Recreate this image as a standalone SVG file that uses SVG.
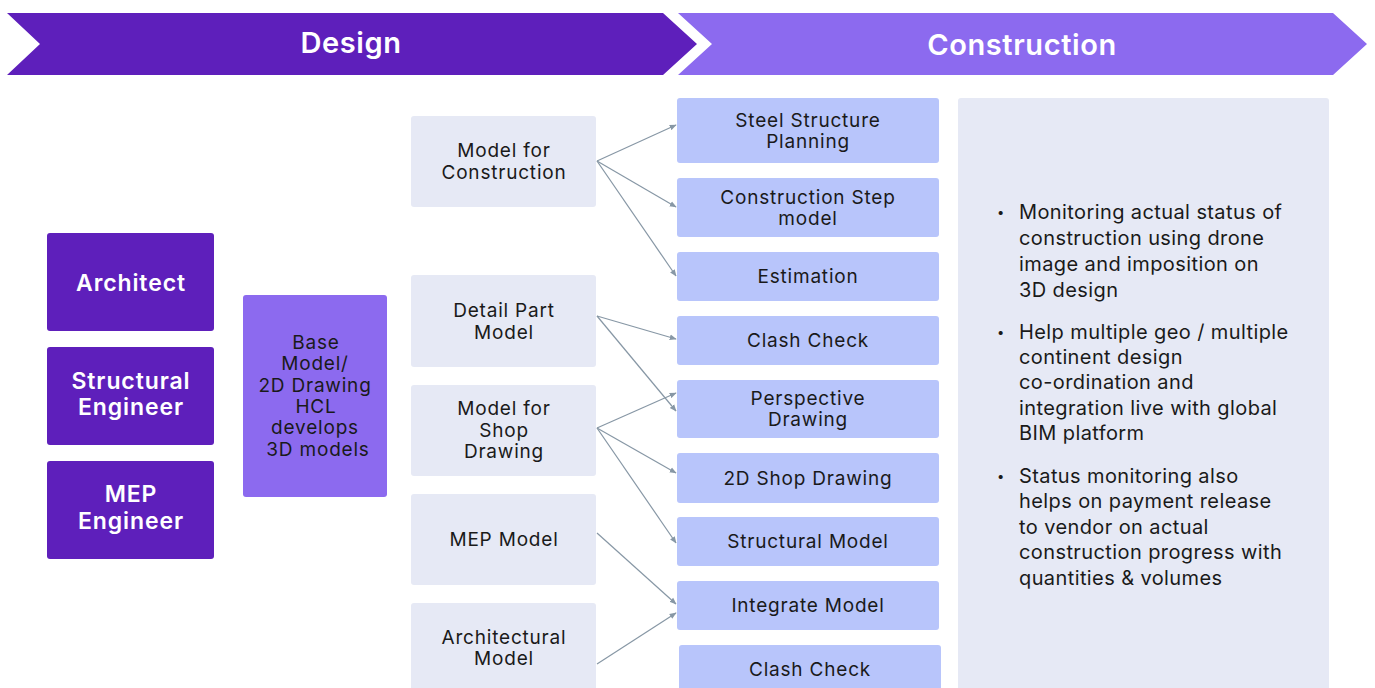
<svg xmlns="http://www.w3.org/2000/svg" width="1375" height="688" viewBox="0 0 1375 688">
  <defs>
    <marker id="arrow" viewBox="0 0 10 10" refX="9" refY="5" markerWidth="7" markerHeight="7" orient="auto" markerUnits="userSpaceOnUse">
      <path d="M0,1 L10,5 L0,9 z" fill="#8797A5"/>
    </marker>
    <style>
      .band-dark { fill: #5E1FBB; }
      .band-light { fill: #8C6AEF; }
      .band-text { font-family: Inter, "Liberation Sans", sans-serif; font-size: 29px; font-weight: 600; letter-spacing: 0.6px; fill: #FFFFFF; text-anchor: middle; }
      .role { fill: #5E1FBB; }
      .role-text { font-family: Inter, "Liberation Sans", sans-serif; font-size: 23px; font-weight: 600; letter-spacing: 0.9px; fill: #FFFFFF; text-anchor: middle; }
      .base { fill: #8C6AEF; }
      .model { fill: #E6E9F5; }
      .output { fill: #B8C5FB; }
      .panel { fill: #E6E9F5; }
      .label { font-family: Inter, "Liberation Sans", sans-serif; font-size: 19px; letter-spacing: 0.8px; fill: #1A1A1A; text-anchor: middle; }
      .bullet { font-family: Inter, "Liberation Sans", sans-serif; font-size: 20px; letter-spacing: 0.4px; fill: #1A1A1A; }
      .dot { font-family: Inter, "Liberation Sans", sans-serif; font-size: 13px; fill: #1A1A1A; }
      .link { stroke: #8797A5; stroke-width: 1.2; fill: none; marker-end: url(#arrow); }
    </style>
  </defs>

  <rect width="1375" height="688" fill="#FFFFFF"/>

  <!-- phase bands -->
  <g id="phase-design">
    <polygon class="band-dark" points="7,13 663,13 697,44 663,75 7,75 40,44"/>
    <text class="band-text" x="351" y="53">Design</text>
  </g>
  <g id="phase-construction">
    <polygon class="band-light" points="678,13 1333,13 1367,44 1333,75 678,75 712,44"/>
    <text class="band-text" x="1022" y="55">Construction</text>
  </g>

  <!-- roles -->
  <g id="architect">
    <rect class="role" x="47" y="233" width="167" height="98" rx="3"/>
    <text class="role-text" x="131" y="291">Architect</text>
  </g>
  <g id="structural-engineer">
    <rect class="role" x="47" y="347" width="167" height="98" rx="3"/>
    <text class="role-text" x="131" y="389">Structural</text>
    <text class="role-text" x="131" y="415">Engineer</text>
  </g>
  <g id="mep-engineer">
    <rect class="role" x="47" y="461" width="167" height="98" rx="3"/>
    <text class="role-text" x="131" y="502">MEP</text>
    <text class="role-text" x="131" y="529">Engineer</text>
  </g>

  <!-- base model -->
  <g id="base-model">
    <rect class="base" x="243" y="295" width="144" height="202" rx="3"/>
    <text class="label" x="316" y="349">Base</text>
    <text class="label" x="315" y="370">Model/</text>
    <text class="label" x="315" y="392">2D Drawing</text>
    <text class="label" x="316" y="413">HCL</text>
    <text class="label" x="315" y="434">develops</text>
    <text class="label" x="318" y="456">3D models</text>
  </g>

  <!-- model types -->
  <g id="model-for-construction">
    <rect class="model" x="411" y="116" width="185" height="91" rx="3"/>
    <text class="label" x="504" y="157">Model for</text>
    <text class="label" x="504" y="179">Construction</text>
  </g>
  <g id="detail-part-model">
    <rect class="model" x="411" y="275" width="185" height="92" rx="3"/>
    <text class="label" x="504" y="317">Detail Part</text>
    <text class="label" x="504" y="339">Model</text>
  </g>
  <g id="model-for-shop-drawing">
    <rect class="model" x="411" y="385" width="185" height="91" rx="3"/>
    <text class="label" x="504" y="415">Model for</text>
    <text class="label" x="504" y="437">Shop</text>
    <text class="label" x="504" y="458">Drawing</text>
  </g>
  <g id="mep-model">
    <rect class="model" x="411" y="494" width="185" height="91" rx="3"/>
    <text class="label" x="504" y="546">MEP Model</text>
  </g>
  <g id="architectural-model">
    <rect class="model" x="411" y="603" width="185" height="95" rx="3"/>
    <text class="label" x="504" y="644">Architectural</text>
    <text class="label" x="504" y="665">Model</text>
  </g>

  <!-- outputs -->
  <g id="steel-structure-planning">
    <rect class="output" x="677" y="98" width="262" height="65" rx="3"/>
    <text class="label" x="808" y="127">Steel Structure</text>
    <text class="label" x="808" y="148">Planning</text>
  </g>
  <g id="construction-step-model">
    <rect class="output" x="677" y="178" width="262" height="59" rx="3"/>
    <text class="label" x="808" y="204">Construction Step</text>
    <text class="label" x="808" y="225">model</text>
  </g>
  <g id="estimation">
    <rect class="output" x="677" y="252" width="262" height="49" rx="3"/>
    <text class="label" x="808" y="283">Estimation</text>
  </g>
  <g id="clash-check-1">
    <rect class="output" x="677" y="316" width="262" height="49" rx="3"/>
    <text class="label" x="808" y="347">Clash Check</text>
  </g>
  <g id="perspective-drawing">
    <rect class="output" x="677" y="380" width="262" height="58" rx="3"/>
    <text class="label" x="808" y="405">Perspective</text>
    <text class="label" x="808" y="426">Drawing</text>
  </g>
  <g id="shop-drawing-2d">
    <rect class="output" x="677" y="453" width="262" height="50" rx="3"/>
    <text class="label" x="808" y="485">2D Shop Drawing</text>
  </g>
  <g id="structural-model">
    <rect class="output" x="677" y="517" width="262" height="49" rx="3"/>
    <text class="label" x="808" y="548">Structural Model</text>
  </g>
  <g id="integrate-model">
    <rect class="output" x="677" y="581" width="262" height="49" rx="3"/>
    <text class="label" x="808" y="612">Integrate Model</text>
  </g>
  <g id="clash-check-2">
    <rect class="output" x="679" y="645" width="262" height="55" rx="3"/>
    <text class="label" x="810" y="676">Clash Check</text>
  </g>

  <!-- construction notes -->
  <g id="construction-notes">
    <rect class="panel" x="958" y="98" width="371" height="600" rx="3"/>
    <g class="dot">
      <text x="997" y="217">•</text>
      <text x="997" y="337">•</text>
      <text x="997" y="481">•</text>
    </g>
    <g class="bullet">
      <text x="1019" y="219">Monitoring actual status of</text>
      <text x="1019" y="245">construction using drone</text>
      <text x="1019" y="271">image and imposition on</text>
      <text x="1019" y="297">3D design</text>
      <text x="1019" y="339">Help multiple geo / multiple</text>
      <text x="1019" y="364">continent design</text>
      <text x="1019" y="389">co-ordination and</text>
      <text x="1019" y="415">integration live with global</text>
      <text x="1019" y="440">BIM platform</text>
      <text x="1019" y="483">Status monitoring also</text>
      <text x="1019" y="508">helps on payment release</text>
      <text x="1019" y="534">to vendor on actual</text>
      <text x="1019" y="559">construction progress with</text>
      <text x="1019" y="585">quantities &amp; volumes</text>
    </g>
  </g>

  <!-- connectors -->
  <g id="connectors">
    <line class="link" x1="597" y1="161" x2="676" y2="125"/>
    <line class="link" x1="597" y1="161" x2="676" y2="207"/>
    <line class="link" x1="597" y1="161" x2="676" y2="276"/>
    <line class="link" x1="597" y1="316" x2="676" y2="339"/>
    <line class="link" x1="597" y1="316" x2="676" y2="411"/>
    <line class="link" x1="597" y1="428" x2="676" y2="393"/>
    <line class="link" x1="597" y1="428" x2="676" y2="473"/>
    <line class="link" x1="597" y1="428" x2="676" y2="543"/>
    <line class="link" x1="597" y1="533" x2="676" y2="604"/>
    <line class="link" x1="597" y1="664" x2="676" y2="613"/>
  </g>
</svg>
